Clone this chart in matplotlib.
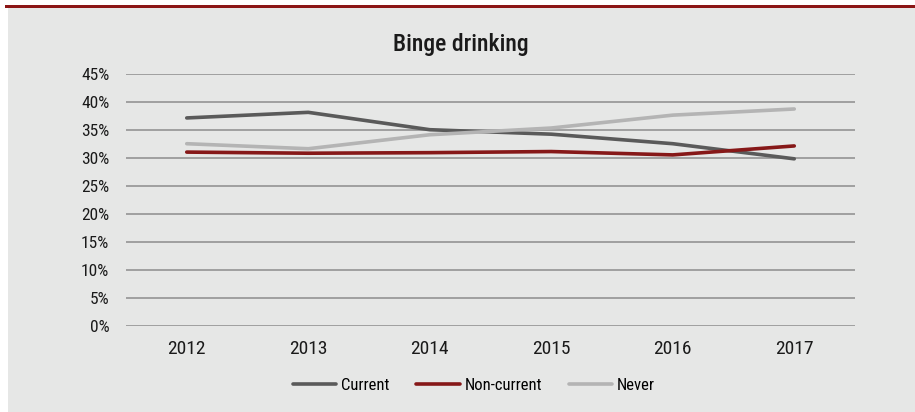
import matplotlib
matplotlib.use("Agg")
import matplotlib.pyplot as plt
from matplotlib import font_manager
from matplotlib.patches import Rectangle
from matplotlib.ticker import PercentFormatter

years = ["2012", "2013", "2014", "2015", "2016", "2017"]
current = [37.1, 38.1, 35.0, 34.2, 32.5, 29.8]
non_current = [31.0, 30.8, 30.9, 31.1, 30.5, 32.1]
never = [32.5, 31.6, 34.1, 35.3, 37.6, 38.7]

series = [
    ("Current", current, "#5a5a5a"),
    ("Non-current", non_current, "#861818"),
    ("Never", never, "#b4b4b4"),
]

# narrow face if there is one, otherwise the default
names = {f.name for f in font_manager.fontManager.ttflist}
family = "DejaVu Sans"
for cand in ["Liberation Sans Narrow", "DejaVu Sans Condensed", "Roboto Condensed"]:
    if cand in names:
        family = cand
        break
plt.rcParams["font.family"] = [family, "DejaVu Sans"]

fig = plt.figure(figsize=(9.15, 4.12), dpi=100)
fig.patch.set_facecolor("white")
fig.patches.append(Rectangle((8 / 915, 0), 1, 1 - 7.5 / 412, transform=fig.transFigure,
                             facecolor="#e6e7e6", edgecolor="none", zorder=0))
fig.patches.append(Rectangle((5 / 915, 1 - 7.5 / 412), 1, 3 / 412, transform=fig.transFigure,
                             facecolor="#8b1515", edgecolor="none", zorder=0))

ax = fig.add_axes([126 / 915, 1 - 325.7 / 412, 729 / 915, 252 / 412])
ax.set_facecolor("none")
ax.set_zorder(2)

x = range(len(years))
for name, vals, col in series:
    ax.plot(x, vals, color=col, lw=2.6, label=name, solid_capstyle="round", zorder=3)

ax.set_xlim(-0.5, len(years) - 0.5)
ax.set_ylim(0, 45)
ax.set_yticks(range(0, 50, 5))
ax.yaxis.set_major_formatter(PercentFormatter(decimals=0))
ax.set_xticks(list(x))
ax.set_xticklabels(years)
ax.grid(axis="y", color="#8c8c8c", lw=1.1)
ax.set_axisbelow(True)
for s in ax.spines.values():
    s.set_visible(False)
ax.tick_params(axis="both", length=0, colors="#1a1a1a")
ax.tick_params(axis="y", labelsize=12.5, pad=12)
ax.tick_params(axis="x", labelsize=14, pad=10)

fig.text(461 / 915, 1 - 44 / 412, "Binge drinking", ha="center", va="center",
         fontsize=17, fontweight="medium", color="#1a1a1a", zorder=3)

leg = fig.legend(loc="center", bbox_to_anchor=(474 / 915, 1 - 385 / 412), ncol=3, frameon=False,
                 fontsize=12, handlelength=2.6, handletextpad=0.3, columnspacing=1.6)
leg.set_zorder(3)

fig.savefig("out.png", dpi=100)
